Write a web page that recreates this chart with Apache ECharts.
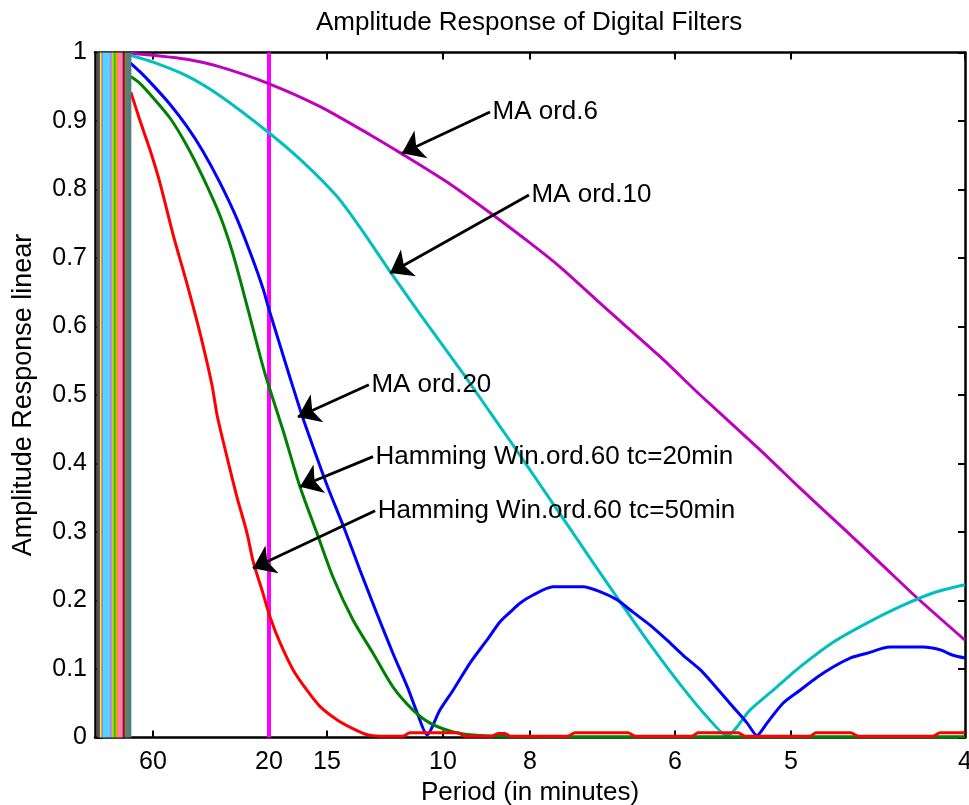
<!DOCTYPE html>
<html>
<head>
<meta charset="utf-8">
<script src="https://cdn.jsdelivr.net/npm/echarts@6/dist/echarts.min.js"></script>
<style>
html,body{margin:0;padding:0;background:#ffffff;}
#chart{width:969px;height:805px;}
</style>
</head>
<body>
<div id="chart"></div>
<script>
// ---------- DATA (frequency in cycles per minute, amplitude linear) ----------
const periodTicks = [60, 20, 15, 10, 8, 6, 5, 4];
const cutoffPeriod = 20;

const ma6Freq = [0.0103,0.0167,0.0264,0.0359,0.0497,0.0647,0.0790,0.0882,0.1020,0.1135,0.1250,0.1336,0.1460,0.1624,0.1739,0.1911,0.2026,0.2149,0.2264,0.2362,0.2500];
const ma6Amp  = [0.999,0.996,0.990,0.979,0.955,0.921,0.880,0.852,0.808,0.766,0.722,0.687,0.630,0.556,0.500,0.420,0.364,0.306,0.251,0.204,0.142];

const ma10Freq = [0.0101,0.0167,0.0264,0.0359,0.0497,0.0598,0.0695,0.0761,0.0848,0.0934,0.1057,0.1135,0.1201,0.1279,0.1365,0.1417,0.1509,0.1595,0.1690,0.1759,0.1816,0.1882,0.1960,0.2026,0.2121,0.2218,0.2313,0.2408,0.2500];
const ma10Amp  = [0.996,0.986,0.966,0.937,0.884,0.840,0.790,0.745,0.680,0.618,0.532,0.475,0.427,0.369,0.305,0.266,0.198,0.136,0.072,0.030,0.003,0.040,0.074,0.103,0.139,0.167,0.191,0.211,0.223];

const ma20Freq = [0.0101,0.0129,0.0167,0.0216,0.0264,0.0310,0.0359,0.0408,0.0454,0.0483,0.0500,0.0532,0.0560,0.0595,0.0624,0.0667,0.0718,0.0761,0.0810,0.0856,0.0899,0.0928,0.0954,0.0991,0.1029,0.1078,0.1126,0.1164,0.1193,0.1221,0.1259,0.1316,0.1402,0.1451,0.1500,0.1546,0.1595,0.1644,0.1690,0.1739,0.1787,0.1833,0.1874,0.1902,0.1931,0.1977,0.2026,0.2075,0.2121,0.2170,0.2218,0.2284,0.2379,0.2428,0.2466,0.2500];
const ma20Amp  = [0.985,0.972,0.952,0.924,0.892,0.856,0.810,0.757,0.697,0.655,0.625,0.572,0.526,0.470,0.428,0.368,0.303,0.245,0.181,0.123,0.072,0.033,0.004,0.040,0.069,0.109,0.142,0.169,0.183,0.196,0.208,0.220,0.220,0.213,0.201,0.183,0.164,0.142,0.120,0.099,0.072,0.045,0.021,0.003,0.021,0.050,0.069,0.088,0.103,0.116,0.123,0.132,0.132,0.128,0.120,0.116];

const ham20Freq = [0.0103,0.0129,0.0167,0.0216,0.0264,0.0310,0.0359,0.0397,0.0437,0.0474,0.0494,0.0540,0.0589,0.0638,0.0684,0.0741,0.0799,0.0856,0.0914,0.0963,0.1029,0.1078,0.1164,0.1500,0.2000,0.2500];
const ham20Amp  = [0.965,0.955,0.934,0.904,0.864,0.818,0.762,0.705,0.630,0.558,0.522,0.449,0.366,0.298,0.234,0.172,0.123,0.074,0.040,0.021,0.008,0.004,0.002,0.001,0.001,0.001];

const ham50Freq = [0.0103,0.0129,0.0158,0.0187,0.0224,0.0264,0.0302,0.0336,0.0351,0.0379,0.0408,0.0437,0.0454,0.0483,0.0503,0.0532,0.0569,0.0609,0.0647,0.0695,0.0741,0.0782,0.0819,0.0885,0.0905,0.1043,0.1063,0.1141,0.1158,0.1178,0.1193,0.1359,0.1379,0.1532,0.1552,0.1716,0.1733,0.1848,0.1868,0.2055,0.2072,0.2172,0.2193,0.2408,0.2428,0.2500];
const ham50Amp  = [0.942,0.901,0.858,0.809,0.735,0.663,0.590,0.515,0.470,0.410,0.351,0.298,0.258,0.210,0.176,0.138,0.099,0.069,0.045,0.026,0.013,0.004,0.002,0.002,0.007,0.007,0.002,0.002,0.006,0.006,0.002,0.002,0.007,0.007,0.002,0.002,0.007,0.007,0.002,0.002,0.007,0.007,0.002,0.002,0.007,0.007];

// low-frequency vertical bands at the left edge of the plot
const stripeFreq = [0.0010,0.0017,0.0021,0.0026,0.0036,0.0046,0.0052,0.0057,0.0063,0.0073,0.0083,0.0089,0.0098];

const annotationText = ['MA ord.6','MA ord.10','MA ord.20','Hamming Win.ord.60 tc=20min','Hamming Win.ord.60 tc=50min'];
const annotationFrom = [[0.1135,0.913],[0.1247,0.792],[0.0787,0.515],[0.0799,0.410],[0.0805,0.331]];
const annotationTo   = [[0.0882,0.853],[0.0848,0.678],[0.0583,0.468],[0.0589,0.366],[0.0454,0.247]];

// ---------- STYLES ----------
const FONT = '"Liberation Sans", Arial, Helvetica, sans-serif';
const stripeColors = ['#505050','#ffff00','#ff44dd','#00ffff','#66ccff','#aa88ff','#bbdd00','#22cc22','#ff9900','#ff7fa0','#8b0a50','#7f7f33','#4f7f7f'];
const stripeWidths = [3.5,2,2,2.5,5.5,2.5,2.5,2.5,2.5,5.5,2.5,2.5,4.5];

const pairs = (xs, ys) => xs.map((x, i) => [x, ys[i]]);
const tickFreqs = periodTicks.map(p => 1 / p);

function curve(name, xs, ys, color) {
  return {
    type: 'line', name, data: pairs(xs, ys),
    showSymbol: false, symbol: 'none', smooth: 0.25, silent: true,
    lineStyle: { color, width: 3 }, emphasis: { disabled: true }, z: 3
  };
}

const series = [];
series.push({
  type: 'line', name: 'cutoff', data: [[1 / cutoffPeriod, 0], [1 / cutoffPeriod, 1]],
  showSymbol: false, symbol: 'none', silent: true,
  lineStyle: { color: '#ff00ff', width: 4 }, z: 2
});
series.push(curve('MA ord.6', ma6Freq, ma6Amp, '#bf00bf'));
series.push(curve('MA ord.10', ma10Freq, ma10Amp, '#00bfbf'));
series.push(curve('MA ord.20', ma20Freq, ma20Amp, '#0000ff'));
series.push(curve('Hamming tc=20', ham20Freq, ham20Amp, '#008000'));
series.push(curve('Hamming tc=50', ham50Freq, ham50Amp, '#ff0000'));

stripeFreq.forEach((f, i) => {
  series.push({
    type: 'line', name: 'band' + i, data: [[f, 0], [f, 1]],
    showSymbol: false, symbol: 'none', silent: true,
    lineStyle: { color: stripeColors[i], width: stripeWidths[i], cap: 'butt' }, z: 4
  });
});

// annotation arrows
series.push({
  type: 'line', name: 'arrows', data: [], silent: true, z: 6,
  symbol: 'none', showSymbol: false,
  itemStyle: { color: '#000' },
  markLine: {
    silent: true, animation: false,
    symbol: ['none', 'arrow'], symbolSize: 16,
    label: { show: false },
    itemStyle: { color: '#000' },
    lineStyle: { color: '#000', width: 2.8, type: 'solid' },
    emphasis: { disabled: true },
    data: annotationFrom.map((p, i) => [
      { coord: p, symbol: 'none' },
      { coord: annotationTo[i], symbol: 'arrow', symbolSize: [23, 21] }
    ])
  }
});
// annotation texts
series.push({
  type: 'scatter', name: 'labels', silent: true, z: 7,
  symbolSize: 1, itemStyle: { color: 'rgba(255,255,255,0)' },
  emphasis: { disabled: true },
  data: annotationFrom.map((p, i) => ({
    value: p, name: annotationText[i],
    label: { color: '#000000', opacity: 1 }
  })),
  label: {
    show: true, position: 'right', distance: 2, opacity: 1,
    formatter: p => p.name, color: '#000000', fontSize: 26, fontFamily: FONT,
    textBorderWidth: 0
  }
});

const axisLineStyle = { color: '#000', width: 2.5 };
const tickStyle = { color: '#000', width: 2 };

const option = {
  animation: false,
  backgroundColor: '#ffffff',
  title: {
    text: 'Amplitude Response of Digital Filters',
    left: 316, top: 10, padding: 0,
    textStyle: { fontSize: 26, fontWeight: 'normal', color: '#000', fontFamily: FONT }
  },
  grid: { left: 95, right: 4, top: 52.5, bottom: 67.5, containLabel: false, outerBoundsMode: 'none' },
  xAxis: [
    {
      type: 'value', min: 0, max: 0.25, position: 'bottom',
      axisLine: { show: true, onZero: false, lineStyle: axisLineStyle },
      axisTick: { show: true, inside: true, length: 7, lineStyle: tickStyle, customValues: tickFreqs },
      axisLabel: { show: true, customValues: tickFreqs, formatter: v => String(Math.round(1 / v)),
        fontSize: 25, color: '#000', fontFamily: FONT, margin: 12, showMaxLabel: true, showMinLabel: true },
      splitLine: { show: false },
      name: 'Period (in minutes)', nameLocation: 'middle', nameGap: 40,
      nameTextStyle: { fontSize: 26, color: '#000', fontFamily: FONT }
    },
    {
      type: 'value', min: 0, max: 0.25, position: 'top',
      axisLine: { show: true, onZero: false, lineStyle: axisLineStyle },
      axisTick: { show: true, inside: true, length: 7, lineStyle: tickStyle, customValues: tickFreqs },
      axisLabel: { show: false, customValues: tickFreqs },
      splitLine: { show: false }
    }
  ],
  yAxis: [
    {
      type: 'value', min: 0, max: 1, interval: 0.1, position: 'left',
      axisLine: { show: true, onZero: false, lineStyle: axisLineStyle },
      axisTick: { show: true, inside: true, length: 7, lineStyle: tickStyle },
      axisLabel: { fontSize: 25, color: '#000', fontFamily: FONT, margin: 8 },
      splitLine: { show: false },
      name: 'Amplitude Response linear', nameLocation: 'middle', nameGap: 58, nameRotate: 90,
      nameTextStyle: { fontSize: 27, color: '#000', fontFamily: FONT }
    },
    {
      type: 'value', min: 0, max: 1, interval: 0.1, position: 'right',
      axisLine: { show: true, onZero: false, lineStyle: axisLineStyle },
      axisTick: { show: true, inside: true, length: 7, lineStyle: tickStyle },
      axisLabel: { show: false },
      splitLine: { show: false }
    }
  ],
  series
};

const chart = echarts.init(document.getElementById('chart'), null, { renderer: 'canvas' });
chart.setOption(option);
</script>
</body>
</html>
